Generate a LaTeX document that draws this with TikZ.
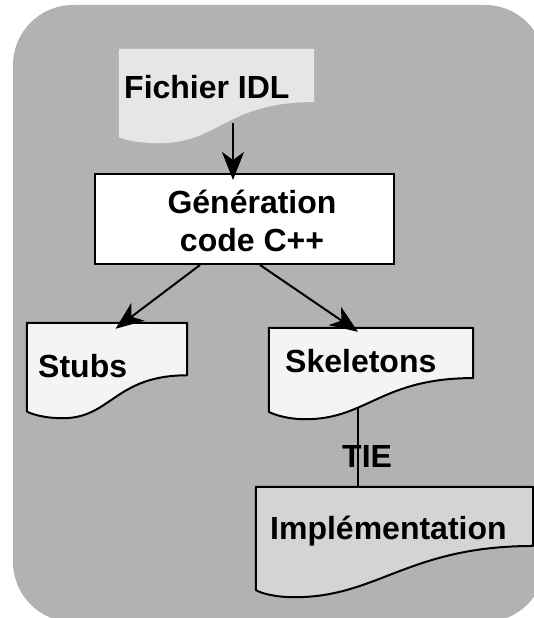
\documentclass[tikz,border=0pt]{standalone}
\usepackage{fontspec}
\setmainfont{Liberation Sans}
\usetikzlibrary{arrows.meta,calc}

\definecolor{panelgray}{RGB}{178,178,178}
\definecolor{idlfill}{RGB}{230,230,230}
\definecolor{docfill}{RGB}{244,244,244}
\definecolor{implfill}{RGB}{212,212,212}

% Document outline (flat top, wavy bottom) drawn around an invisible box node.
% #1 node, #2 path style, #3 right-edge depth, #4 left-edge depth, #5 position of the wave's low point
\newcommand\docshape[5]{%
  \path[#2] let \p1=(#1.north west), \p2=(#1.south east),
      \n1={\x2-\x1}, \n2={\y1-\y2} in
    (\x1,\y1) -- (\x2,\y1) -- (\x2,{\y1-#3*\n2})
    .. controls ({\x2-0.45*\n1},{\y1-#3*\n2}) and ({\x1+(#5+0.3)*\n1},\y2) .. ({\x1+#5*\n1},\y2)
    .. controls ({\x1+0.5*#5*\n1},\y2) and ({\x1+0.15*#5*\n1},{\y1-#4*\n2-0.03*\n2}) .. (\x1,{\y1-#4*\n2})
    -- cycle;
}

\tikzset{
  docbox/.style={rectangle, draw=none, inner sep=0pt},
  docline/.style={draw=black, line width=2pt, line join=round},
  lbl/.style={inner sep=0pt, anchor=base west, font=\fontsize{32}{38}\selectfont\bfseries},
  clbl/.style={inner sep=0pt, anchor=base, font=\fontsize{32}{38}\selectfont\bfseries},
  arr/.style={line width=2pt, -{Stealth[length=28pt,width=22pt,inset=8pt]}},
  link/.style={line width=2pt},
}

\begin{document}
\begin{tikzpicture}[x=1pt,y=-1pt]
\useasboundingbox (0,0) rectangle (534,618);

% grey panel
\fill[panelgray, rounded corners=60pt] (13,5) rectangle (545,622);

% boxes that carry the document outlines
\node[docbox, minimum width=195, minimum height=94]  (idl)  at (216.5,96)  {};
\node[docbox, minimum width=160, minimum height=95]  (stubs) at (107,370.5) {};
\node[docbox, minimum width=204, minimum height=91]  (skel) at (371,373.5) {};
\node[docbox, minimum width=277, minimum height=110] (impl) at (394.5,542) {};

\docshape{idl}{fill=idlfill}{0.564}{0.936}{0.21}
\docshape{stubs}{docline, fill=docfill}{0.55}{0.93}{0.225}
\docshape{skel}{docline, fill=docfill}{0.55}{0.92}{0.18}
\docshape{impl}{docline, fill=implfill}{0.536}{0.936}{0.14}

% code generation step
\node[rectangle, draw=black, fill=white, line width=2pt,
      minimum width=299, minimum height=90, inner sep=0pt] (gen) at (244.5,219) {};

% labels
\node[lbl]  (idl-t)   at (124,98)    {Fichier IDL};
\node[clbl] (gen-t1)  at (252,213)   {Génération};
\node[clbl] (gen-t2)  at (252,251)   {code C++};
\node[lbl]  (stubs-t) at (38,377)    {Stubs};
\node[lbl]  (skel-t)  at (285,372)   {Skeletons};
\node[lbl]  (impl-t)  at (270,539)   {Implémentation};

% connectors
\draw[arr] ([shift={(16.5,-20)}]idl.south) -- ([shift={(-11.5,7)}]gen.north);
\draw[arr] ([xshift=-44.5]gen.south) -- ([shift={(8.5,6)}]stubs.north);
\draw[arr] ([xshift=15.5]gen.south) -- ([shift={(-13,4)}]skel.north);
\draw[link] ([shift={(-13,-11)}]skel.south) -- ([xshift=-36.5]impl.north);
\node[lbl] (tie-t) at (342,467) {TIE};
\end{tikzpicture}
\end{document}
